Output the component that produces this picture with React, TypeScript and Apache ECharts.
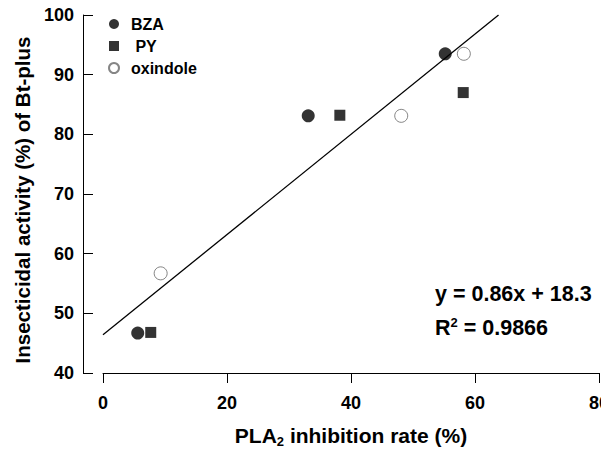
import React, { useEffect, useRef } from "react";
import * as echarts from "echarts";

const bzaData: [number, number][] = [
  [5.6, 46.7],
  [33.1, 83.1],
  [55.2, 93.5],
];
const pyData: [number, number][] = [
  [7.7, 46.8],
  [38.2, 83.2],
  [58.1, 87.0],
];
const oxindoleData: [number, number][] = [
  [9.3, 56.7],
  [48.1, 83.1],
  [58.2, 93.5],
];
const fitLine: [number, number][] = [
  [0, 46.4],
  [63.8, 100],
];
const seriesNames = ["BZA", "PY", "oxindole"];
const yTitle = "Insecticidal activity (%) of Bt-plus";
const equationText = "y = 0.86x + 18.3";
const r2Value = "0.9866";

const FONT = "'Liberation Sans', Arial, Helvetica, sans-serif";

export default function App() {
  const ref = useRef<HTMLDivElement>(null);
  useEffect(() => {
    if (!ref.current) return;
    const chart = echarts.init(ref.current, null, { renderer: "svg" });
    chart.setOption({
      animation: false,
      backgroundColor: "#ffffff",
      grid: {
        left: 103,
        right: 10,
        top: 15,
        bottom: 83,
        containLabel: false,
        outerBoundsMode: "none",
      },
      legend: {
        orient: "vertical",
        left: 108,
        top: 15,
        padding: 0,
        itemGap: 4,
        itemWidth: 10,
        itemHeight: 10,
        data: seriesNames,
        formatter: (n: string) => (n === "PY" ? " PY" : n),
        textStyle: {
          fontFamily: FONT,
          fontWeight: "bold",
          fontSize: 16,
          lineHeight: 18,
          color: "#000",
          padding: [0, 0, 0, 7],
        },
      },
      xAxis: {
        type: "value",
        min: 0,
        max: 80,
        interval: 20,
        name: "{a|PLA}{s|2}{a| inhibition rate (%)}",
        nameLocation: "middle",
        nameGap: 50,
        nameTextStyle: {
          rich: {
            a: { fontFamily: FONT, fontSize: 21, fontWeight: "bold", color: "#000" },
            s: {
              fontFamily: FONT,
              fontSize: 13,
              fontWeight: "bold",
              color: "#000",
              verticalAlign: "bottom",
              padding: [12, 0, 0, 0],
            },
          },
        },
        splitLine: { show: false },
        axisLine: { show: true, onZero: false, lineStyle: { color: "#000", width: 1 } },
        axisTick: { show: true, inside: false, length: 10, lineStyle: { color: "#000" } },
        axisLabel: {
          fontFamily: FONT,
          fontWeight: "bold",
          fontSize: 18,
          color: "#000",
          margin: 21,
        },
      },
      yAxis: {
        type: "value",
        min: 40,
        max: 100,
        interval: 10,
        offset: 20,
        splitLine: { show: false },
        axisLine: { show: true, onZero: false, lineStyle: { color: "#000", width: 1 } },
        axisTick: { show: true, inside: true, length: 10, lineStyle: { color: "#000" } },
        axisLabel: {
          fontFamily: FONT,
          fontWeight: "bold",
          fontSize: 18,
          color: "#000",
          margin: 9,
        },
      },
      series: [
        {
          name: "BZA",
          type: "scatter",
          data: bzaData,
          symbol: "circle",
          symbolSize: 13,
          itemStyle: { color: "#000" },
          z: 3,
        },
        {
          name: "PY",
          type: "scatter",
          data: pyData,
          symbol: "rect",
          symbolSize: 11,
          itemStyle: { color: "#000" },
          z: 3,
        },
        {
          name: "oxindole",
          type: "scatter",
          data: oxindoleData,
          symbol: "circle",
          symbolSize: 13,
          itemStyle: { color: "#fff", borderColor: "#666", borderWidth: 1 },
          z: 3,
        },
        {
          name: "fit",
          type: "line",
          data: fitLine,
          symbol: "none",
          lineStyle: { color: "#000", width: 1.3 },
          z: 2,
        },
      ],
      graphic: [
        {
          type: "text",
          x: 22,
          y: 200,
          rotation: Math.PI / 2,
          style: {
            text: yTitle,
            fontFamily: FONT,
            fontSize: 20.5,
            fontWeight: "bold",
            fill: "#000",
            align: "center",
            verticalAlign: "middle",
          },
        },
        {
          type: "text",
          left: 435,
          top: 283,
          style: {
            text: equationText,
            fontFamily: FONT,
            fontSize: 21.5,
            fontWeight: "bold",
            fill: "#000",
          },
        },
        {
          type: "text",
          left: 435,
          top: 316,
          style: {
            text: "{a|R}{s|2}{a| = " + r2Value + "}",
            rich: {
              a: { fontFamily: FONT, fontSize: 21.5, fontWeight: "bold", fill: "#000" },
              s: {
                fontFamily: FONT,
                fontSize: 13,
                fontWeight: "bold",
                fill: "#000",
                verticalAlign: "top",
                padding: [0, 0, 10, 0],
              },
            },
          },
        },
      ],
    });
    return () => chart.dispose();
  }, []);
  return <div ref={ref} style={{ width: 609, height: 456, margin: -8 }} />;
}
